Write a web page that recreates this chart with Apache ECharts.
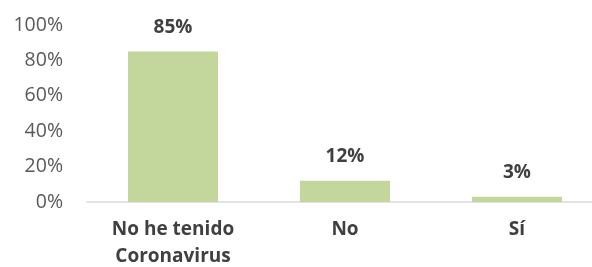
<!DOCTYPE html>
<html>
<head>
<meta charset="utf-8">
<script src="https://cdn.jsdelivr.net/npm/echarts@6/dist/echarts.min.js"></script>
<style>
  html, body { margin: 0; padding: 0; background: #fff; }
  #chart { width: 592px; height: 267px; }
</style>
</head>
<body>
<div id="chart"></div>
<script>
const categories = ["No he tenido\nCoronavirus", "No", "Sí"];
const values = [85, 12, 3];
const yTicks = [0, 20, 40, 60, 80, 100];

const chart = echarts.init(document.getElementById("chart"));
const font = "'Open Sans', 'Noto Sans', sans-serif";

chart.setOption({
  animation: false,
  grid: { left: 87, top: 25, width: 516, height: 177, outerBoundsMode: "none", containLabel: false },
  xAxis: {
    type: "category",
    data: categories,
    axisLine: { lineStyle: { color: "#d9d9d9", width: 1.5 } },
    axisTick: { show: false },
    axisLabel: {
      color: "#404040", fontFamily: font, fontSize: 19, fontWeight: "bold",
      lineHeight: 27, margin: 14, interval: 0,
    },
  },
  yAxis: {
    type: "value",
    min: yTicks[0],
    max: yTicks[yTicks.length - 1],
    interval: 20,
    splitLine: { show: false },
    axisLine: { show: false },
    axisTick: { show: false },
    axisLabel: {
      color: "#595959", fontFamily: font, fontSize: 19.5, margin: 24,
      formatter: v => v + "%",
    },
  },
  series: [{
    type: "bar",
    data: values,
    barWidth: 90,
    itemStyle: { color: "#c3d69b" },
    label: {
      show: true, position: "top", distance: 12,
      color: "#404040", fontFamily: font, fontSize: 19, fontWeight: "bold",
      lineHeight: 24,
      formatter: p => p.value + "%",
    },
  }],
});
</script>
</body>
</html>
